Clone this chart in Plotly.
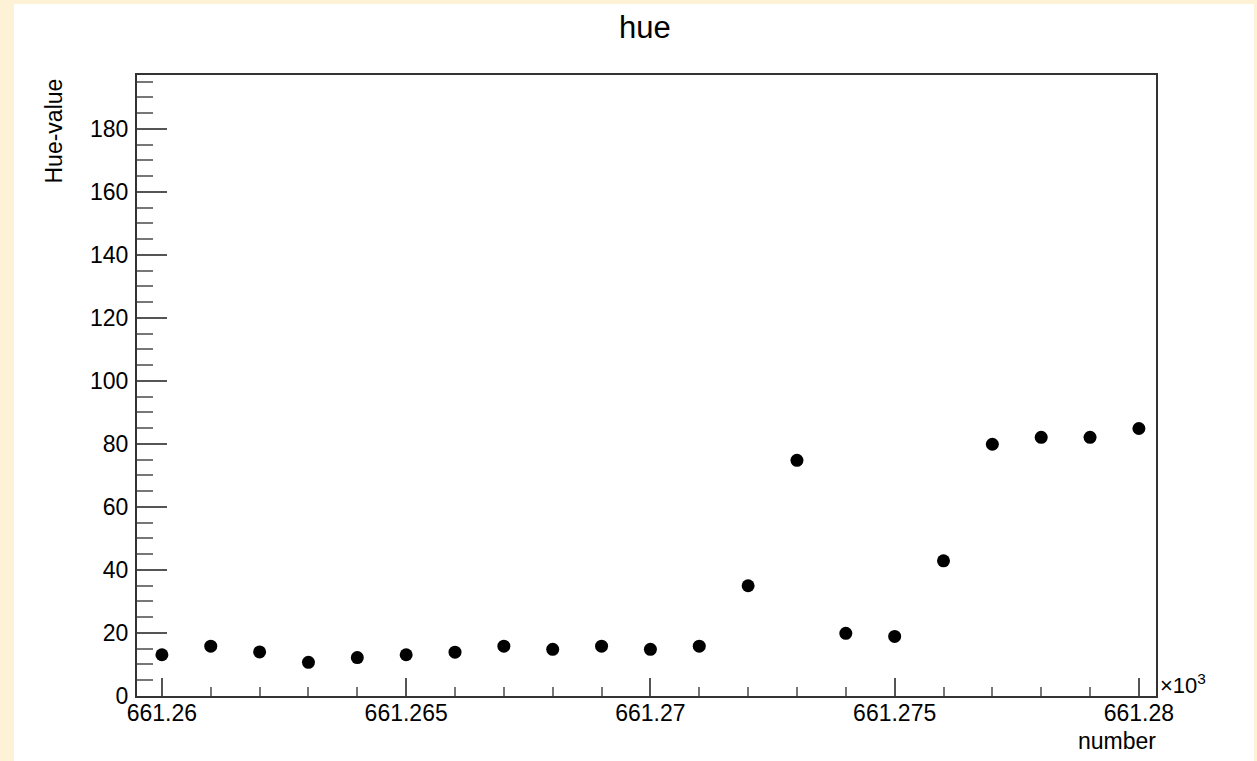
import plotly.graph_objects as go

# Data
numbers = [661260, 661261, 661262, 661263, 661264, 661265, 661266, 661267, 661268, 661269,
           661270, 661271, 661272, 661273, 661274, 661275, 661276, 661277, 661278, 661279, 661280]
hue_values = [13.1, 15.8, 14.0, 10.7, 12.2, 13.1, 13.9, 15.8, 14.8, 15.8,
              14.8, 15.8, 35.0, 74.8, 19.9, 18.9, 42.9, 79.9, 82.1, 82.1, 84.9]
x_tickvals = [661260, 661265, 661270, 661275, 661280]
x_ticktext = ["661.26", "661.265", "661.27", "661.275", "661.28"]
y_tickvals = [0, 20, 40, 60, 80, 100, 120, 140, 160, 180]

FONT = "Liberation Sans, Arial, Helvetica, sans-serif"

fig = go.Figure()
fig.add_trace(go.Scatter(
    x=numbers, y=hue_values, mode="markers",
    marker=dict(color="black", size=13, line=dict(width=0)),
    showlegend=False,
))

fig.update_layout(
    width=1257, height=761,
    margin=dict(l=137, r=101, t=75, b=65),
    paper_bgcolor="#fdf1d6",
    plot_bgcolor="white",
    font=dict(family=FONT, color="black", size=23),
    shapes=[dict(type="rect", xref="paper", yref="paper",
                 x0=(14 - 137) / 1019, x1=(1254 - 137) / 1019,
                 y0=-0.2, y1=(696 - 4) / 621,
                 fillcolor="white", line=dict(width=0), layer="below")],
    annotations=[
        dict(text="hue", xref="paper", yref="paper", x=(645 - 137) / 1019, y=(696 - 27) / 621,
             xanchor="center", yanchor="middle", showarrow=False, font=dict(size=31)),
        dict(text="Hue-value", xref="paper", yref="paper", x=(53.5 - 137) / 1019, y=(696 - 131) / 621,
             xanchor="center", yanchor="middle", textangle=-90, showarrow=False, font=dict(size=23)),
        dict(text="number", xref="paper", yref="paper", x=(1158 - 137) / 1019, y=(696 - 741) / 621,
             xanchor="right", yanchor="middle", showarrow=False, font=dict(size=23)),
        dict(text="×10<sup>3</sup>", xref="paper", yref="paper", x=(1158 - 137) / 1019, y=(696 - 684) / 621,
             xanchor="left", yanchor="middle", showarrow=False, font=dict(size=22)),
    ],
)

fig.update_xaxes(
    range=[661259.49, 661280.35],
    tickvals=x_tickvals, ticktext=x_ticktext,
    ticks="inside", ticklen=18, tickwidth=2, tickcolor="#555555",
    minor=dict(dtick=1, tick0=661260, ticks="inside", ticklen=9, tickwidth=2, tickcolor="#777777"),
    showline=True, linewidth=2, linecolor="#333333", mirror=True,
    showgrid=False, zeroline=False,
    tickfont=dict(size=23),
    ticklabelstandoff=-5,
)
fig.update_yaxes(
    range=[0, 197.1],
    tickvals=y_tickvals,
    ticks="inside", ticklen=30, tickwidth=2, tickcolor="#555555",
    minor=dict(dtick=5, tick0=0, ticks="inside", ticklen=16, tickwidth=2, tickcolor="#777777"),
    showline=True, linewidth=2, linecolor="#333333", mirror=True,
    showgrid=False, zeroline=False,
    tickfont=dict(size=23),
    ticklabelstandoff=2,
)

fig.write_html("out.html", config={"displayModeBar": False},
               post_script="document.body.style.margin='0';document.body.style.overflow='hidden';")
